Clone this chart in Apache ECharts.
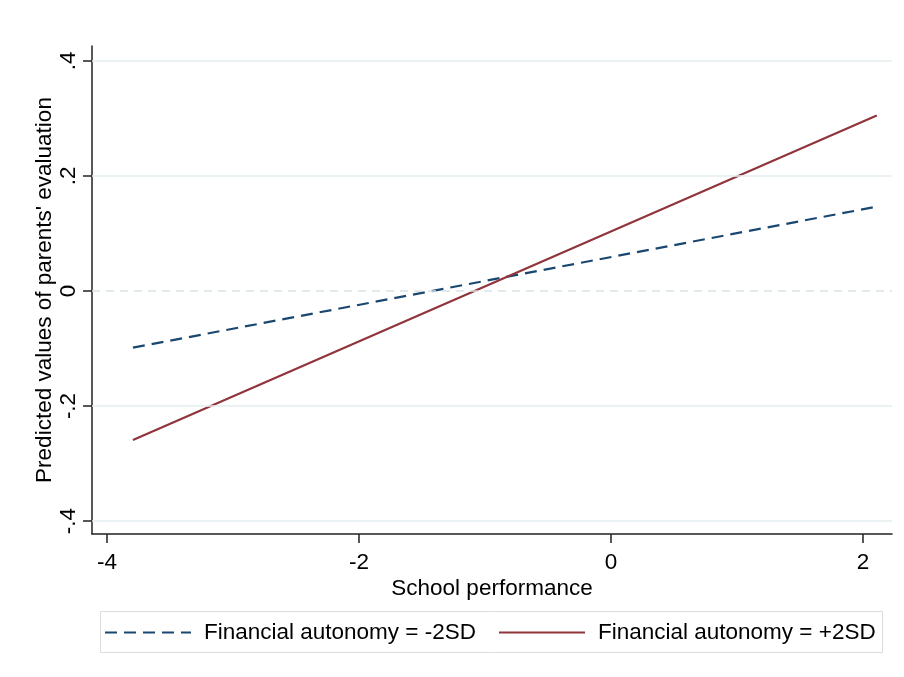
<!DOCTYPE html>
<html>
<head>
<meta charset="utf-8">
<script src="https://cdn.jsdelivr.net/npm/echarts@6/dist/echarts.min.js"></script>
<style>
  html, body { margin: 0; padding: 0; background: #fff; }
  #chart { width: 904px; height: 677px; }
</style>
</head>
<body>
<div id="chart"></div>
<script>
// Predicted parents' evaluation against school performance, by financial autonomy
const schoolPerformance = [-3.794, 2.109];
const lowAutonomy = [-0.0986, 0.1466];   // Financial autonomy = -2SD
const highAutonomy = [-0.259, 0.305];    // Financial autonomy = +2SD

const xTicks = [-4, -2, 0, 2];
const yTicks = [-0.4, -0.2, 0, 0.2, 0.4];
const yTickText = { '-0.4': '-.4', '-0.2': '-.2', '0': '0', '0.2': '.2', '0.4': '.4' };

const seriesNames = ['Financial autonomy = -2SD', 'Financial autonomy = +2SD'];

const FONT = 'Liberation Sans, Arial, sans-serif';
const FONT_SIZE = 22.5;
const AXIS_COLOR = '#222';

const chart = echarts.init(document.getElementById('chart'), null, { renderer: 'canvas' });

const toPairs = (xs, ys) => xs.map((x, i) => [x, ys[i]]);

chart.setOption({
  backgroundColor: '#fff',
  animation: false,
  grid: { left: 92, right: 12, top: 46, bottom: 143 },
  graphic: [{
    type: 'rect',
    shape: { x: 100.5, y: 611.5, width: 782, height: 41 },
    style: { fill: '#fff', stroke: '#dcdcdc', lineWidth: 1 },
    z: 0
  }],
  legend: {
    left: 104,
    top: 621,
    itemWidth: 86,
    itemHeight: 14,
    itemGap: 22,
    padding: 0,
    itemStyle: { opacity: 0, borderWidth: 0 },
    textStyle: { fontFamily: FONT, fontSize: FONT_SIZE, color: '#000', padding: [0, 0, 0, 8] },
    data: seriesNames,
    z: 5
  },
  xAxis: {
    type: 'value',
    min: -4.119,
    max: 2.23,
    name: 'School performance',
    nameLocation: 'middle',
    nameGap: 43,
    nameMoveOverlap: false,
    nameTextStyle: { fontFamily: FONT, fontSize: FONT_SIZE, color: '#000' },
    axisLine: { show: true, onZero: false, lineStyle: { color: AXIS_COLOR, width: 1.5 } },
    axisTick: { show: true, length: 9, customValues: xTicks, lineStyle: { color: AXIS_COLOR, width: 1.5 } },
    axisLabel: { customValues: xTicks, fontFamily: FONT, fontSize: FONT_SIZE, color: '#000', margin: 17 },
    splitLine: { show: false }
  },
  yAxis: {
    type: 'value',
    min: -0.4226,
    max: 0.426,
    name: "Predicted values of parents' evaluation",
    nameLocation: 'middle',
    nameRotate: 90,
    nameGap: 36,
    nameMoveOverlap: false,
    nameTextStyle: { fontFamily: FONT, fontSize: FONT_SIZE, color: '#000' },
    axisLine: { show: true, onZero: false, lineStyle: { color: AXIS_COLOR, width: 1.5 } },
    axisTick: { show: true, length: 9, customValues: yTicks, lineStyle: { color: AXIS_COLOR, width: 1.5 } },
    axisLabel: {
      customValues: yTicks,
      rotate: 90,
      fontFamily: FONT,
      fontSize: FONT_SIZE,
      color: '#000',
      margin: 12,
      formatter: v => yTickText[String(Math.round(v * 10) / 10)] ?? String(v)
    },
    splitLine: { show: false }
  },
  series: [
    {
      // horizontal reference lines at the labelled y values
      type: 'line',
      data: [],
      silent: true,
      z: 1,
      markLine: {
        silent: true,
        symbol: 'none',
        label: { show: false },
        data: yTicks.map(v => ({
          yAxis: v,
          lineStyle: v === 0
            ? { color: '#d8e2e6', width: 1.5, type: [8, 6] }
            : { color: '#e5eef1', width: 1.5, type: 'solid' }
        }))
      }
    },
    {
      name: seriesNames[0],
      type: 'line',
      data: toPairs(schoolPerformance, lowAutonomy),
      symbol: 'none',
      showSymbol: false,
      z: 3,
      lineStyle: { color: '#1a476f', width: 2.2, type: [12, 7] },
      itemStyle: { color: '#1a476f' }
    },
    {
      name: seriesNames[1],
      type: 'line',
      data: toPairs(schoolPerformance, highAutonomy),
      symbol: 'none',
      showSymbol: false,
      z: 4,
      lineStyle: { color: '#90353b', width: 2.2, type: 'solid' },
      itemStyle: { color: '#90353b' }
    }
  ]
});
</script>
</body>
</html>
